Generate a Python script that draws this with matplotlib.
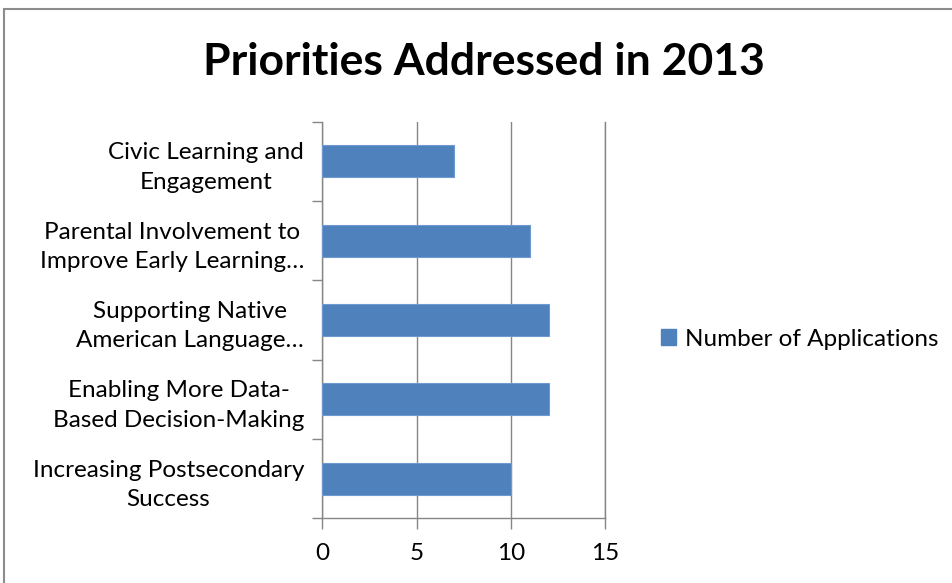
import matplotlib
matplotlib.use("Agg")
import matplotlib.pyplot as plt
from matplotlib.patches import Rectangle
import numpy as np

categories = ["Civic Learning and\nEngagement",
              "Parental Involvement to\nImprove Early Learning\u2026",
              "Supporting Native\nAmerican Language\u2026",
              "Enabling More Data-\nBased Decision-Making",
              "Increasing Postsecondary\nSuccess"]
values = [7, 11, 12, 12, 10]
series_name = "Number of Applications"
title = "Priorities Addressed in 2013"
xticks = [0, 5, 10, 15]

plt.rcParams['font.family'] = ['Lato', 'DejaVu Sans']
BAR = '#4F81BD'
GRID = '#868686'

fig = plt.figure(figsize=(9.53, 5.83), dpi=100)
fig.patches.append(Rectangle((4/953, -0.1), 1.2, 1 - 9/583 + 0.1, transform=fig.transFigure,
                             fill=False, edgecolor='#8c8c8c', linewidth=1.5))

ax = fig.add_axes([322.3/953, 1 - 518.3/583, 283/953, 396.6/583])
y = np.arange(len(categories))
ax.barh(y, values, height=0.4, color=BAR, edgecolor='#6f9ad0', linewidth=0.8,
        label=series_name, zorder=3)
ax.set_ylim(len(categories) - 0.5, -0.5)
ax.set_xlim(0, 15)
ax.set_xticks(xticks)
ax.set_xticklabels([str(t) for t in xticks], fontsize=17.5, color='#000000')
ax.set_yticks(y)
ax.set_yticklabels(categories, fontsize=17.5, color='#000000', multialignment='center',
                   linespacing=1.5)
ax.set_yticks(np.arange(-0.5, len(categories)), minor=True)
ax.tick_params(axis='y', which='major', length=0, pad=13)
ax.tick_params(axis='y', which='minor', length=7, color=GRID, width=1)
ax.tick_params(axis='x', which='major', length=8, color=GRID, width=1, pad=10)
ax.grid(axis='x', color=GRID, linewidth=1, zorder=0)
ax.spines['top'].set_visible(False)
for s in ['left', 'bottom', 'right']:
    ax.spines[s].set_color(GRID)
    ax.spines[s].set_linewidth(1)

fig.text(484/953, 1 - 62/583, title, ha='center', va='center', fontsize=32,
         fontweight='bold', color='#000000')

fig.legend(handles=[Rectangle((0, 0), 1, 1, color=BAR)], labels=[series_name],
           loc='center left', bbox_to_anchor=(661/953, 1 - 339/583), frameon=False,
           fontsize=17.5, handlelength=0.6, handleheight=0.6, handletextpad=0.4,
           borderpad=0, borderaxespad=0)

fig.savefig("out.png", dpi=100)
